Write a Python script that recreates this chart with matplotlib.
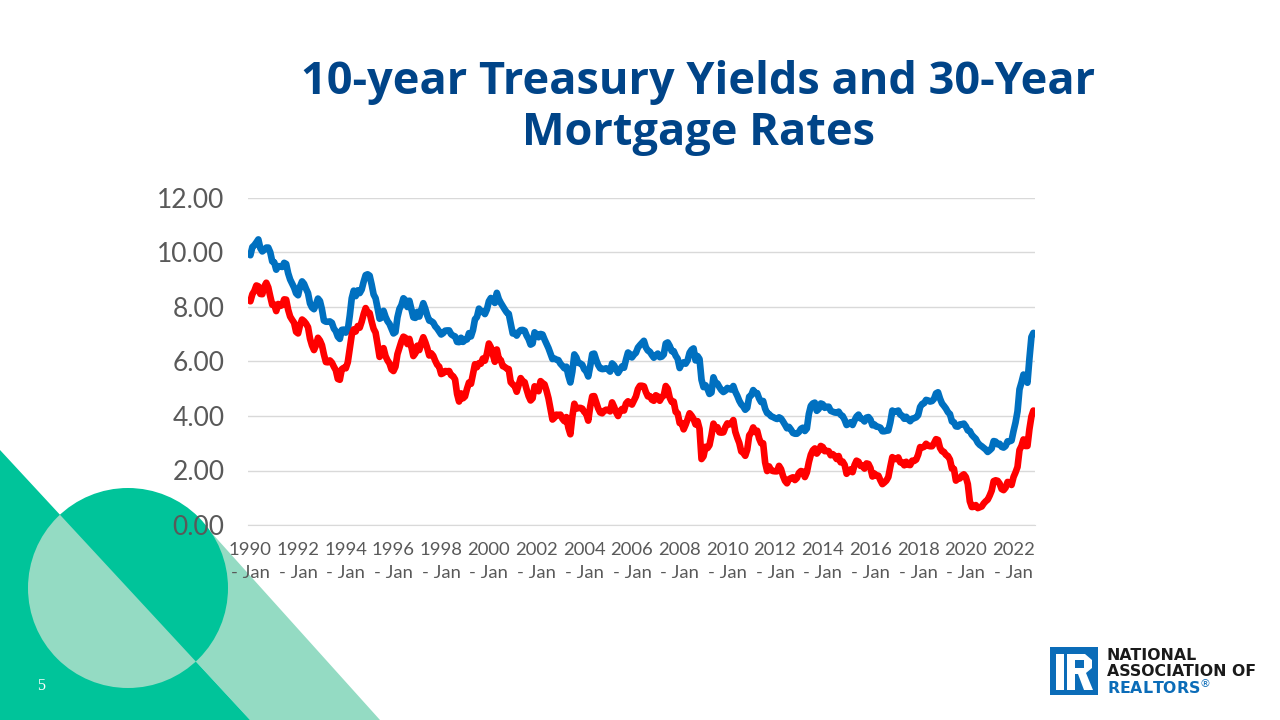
import matplotlib
matplotlib.use('Agg')
import matplotlib.pyplot as plt
from matplotlib.patches import Polygon, Circle, Rectangle
from matplotlib.path import Path
from matplotlib.patches import PathPatch

# monthly values, Jan 1990 .. Nov 2022
mortgage_30y = [
    9.90, 10.20, 10.27, 10.37, 10.48, 10.16, 10.04, 10.10, 10.18, 10.18, 10.01, 9.67,  # 1990
    9.64, 9.37, 9.50, 9.49, 9.47, 9.62, 9.58, 9.24, 9.01, 8.86, 8.71, 8.50,  # 1991
    8.43, 8.76, 8.94, 8.85, 8.67, 8.51, 8.13, 7.98, 7.92, 8.09, 8.31, 8.22,  # 1992
    7.92, 7.50, 7.46, 7.46, 7.47, 7.42, 7.21, 7.11, 6.91, 6.83, 7.16, 7.17,  # 1993
    7.06, 7.15, 7.68, 8.32, 8.60, 8.40, 8.61, 8.51, 8.64, 8.93, 9.17, 9.20,  # 1994
    9.15, 8.83, 8.46, 8.32, 7.96, 7.57, 7.61, 7.86, 7.64, 7.48, 7.38, 7.20,  # 1995
    7.03, 7.08, 7.62, 7.93, 8.07, 8.32, 8.25, 8.00, 8.23, 7.92, 7.62, 7.60,  # 1996
    7.82, 7.65, 7.90, 8.14, 7.94, 7.69, 7.50, 7.48, 7.43, 7.29, 7.21, 7.10,  # 1997
    6.99, 7.04, 7.13, 7.14, 7.14, 7.00, 6.95, 6.92, 6.72, 6.71, 6.87, 6.72,  # 1998
    6.79, 6.81, 7.04, 6.92, 7.15, 7.55, 7.63, 7.94, 7.82, 7.85, 7.74, 7.91,  # 1999
    8.21, 8.33, 8.24, 8.15, 8.52, 8.29, 8.15, 8.03, 7.91, 7.80, 7.75, 7.38,  # 2000
    7.03, 7.05, 6.95, 7.08, 7.15, 7.16, 7.13, 6.95, 6.82, 6.62, 6.66, 7.07,  # 2001
    7.00, 6.89, 7.01, 6.99, 6.81, 6.65, 6.49, 6.29, 6.09, 6.11, 6.07, 6.05,  # 2002
    5.92, 5.84, 5.75, 5.81, 5.48, 5.23, 5.63, 6.26, 6.15, 5.95, 5.93, 5.88,  # 2003
    5.71, 5.64, 5.45, 5.83, 6.27, 6.29, 6.06, 5.87, 5.75, 5.72, 5.73, 5.75,  # 2004
    5.71, 5.63, 5.93, 5.86, 5.72, 5.58, 5.70, 5.82, 5.77, 6.07, 6.33, 6.27,  # 2005
    6.15, 6.25, 6.32, 6.51, 6.60, 6.68, 6.76, 6.52, 6.40, 6.36, 6.24, 6.14,  # 2006
    6.22, 6.29, 6.16, 6.18, 6.26, 6.66, 6.70, 6.57, 6.38, 6.38, 6.21, 6.10,  # 2007
    5.76, 5.92, 5.97, 5.92, 6.04, 6.32, 6.43, 6.48, 6.04, 6.20, 6.09, 5.33,  # 2008
    5.06, 5.13, 5.00, 4.81, 4.86, 5.42, 5.22, 5.19, 5.06, 4.95, 4.88, 4.93,  # 2009
    5.03, 4.99, 4.97, 5.10, 4.89, 4.74, 4.56, 4.43, 4.35, 4.23, 4.30, 4.71,  # 2010
    4.76, 4.95, 4.84, 4.84, 4.64, 4.51, 4.55, 4.27, 4.11, 4.07, 3.99, 3.96,  # 2011
    3.92, 3.89, 3.95, 3.91, 3.80, 3.68, 3.55, 3.60, 3.50, 3.38, 3.35, 3.35,  # 2012
    3.41, 3.53, 3.57, 3.45, 3.54, 4.07, 4.37, 4.46, 4.49, 4.19, 4.26, 4.46,  # 2013
    4.43, 4.30, 4.34, 4.34, 4.19, 4.16, 4.13, 4.12, 4.16, 4.04, 4.00, 3.86,  # 2014
    3.67, 3.71, 3.77, 3.67, 3.84, 3.98, 4.05, 3.91, 3.89, 3.80, 3.94, 3.96,  # 2015
    3.87, 3.66, 3.69, 3.61, 3.60, 3.57, 3.44, 3.44, 3.46, 3.47, 3.77, 4.20,  # 2016
    4.15, 4.17, 4.20, 4.05, 4.01, 3.90, 3.97, 3.88, 3.81, 3.90, 3.92, 3.95,  # 2017
    4.03, 4.33, 4.44, 4.47, 4.59, 4.57, 4.53, 4.55, 4.63, 4.83, 4.87, 4.64,  # 2018
    4.46, 4.37, 4.27, 4.14, 4.07, 3.80, 3.77, 3.62, 3.61, 3.69, 3.70, 3.72,  # 2019
    3.62, 3.47, 3.45, 3.31, 3.23, 3.16, 3.02, 2.94, 2.89, 2.83, 2.77, 2.68,  # 2020
    2.74, 2.81, 3.08, 3.06, 2.96, 2.98, 2.87, 2.84, 2.90, 3.07, 3.07, 3.10,  # 2021
    3.45, 3.76, 4.17, 4.98, 5.23, 5.52, 5.41, 5.22, 6.11, 6.90, 7.05,        # 2022
]

treasury_10y = [
    8.21, 8.47, 8.59, 8.79, 8.76, 8.48, 8.47, 8.75, 8.89, 8.72, 8.39, 8.08,  # 1990
    8.09, 7.85, 8.11, 8.04, 8.07, 8.28, 8.27, 7.90, 7.65, 7.53, 7.42, 7.09,  # 1991
    7.03, 7.34, 7.54, 7.48, 7.39, 7.26, 6.84, 6.59, 6.42, 6.59, 6.87, 6.77,  # 1992
    6.60, 6.26, 5.98, 5.97, 6.04, 5.96, 5.81, 5.68, 5.36, 5.33, 5.72, 5.77,  # 1993
    5.75, 5.97, 6.48, 6.97, 7.18, 7.10, 7.30, 7.24, 7.46, 7.74, 7.96, 7.81,  # 1994
    7.78, 7.47, 7.20, 7.06, 6.63, 6.17, 6.28, 6.49, 6.20, 6.04, 5.93, 5.71,  # 1995
    5.65, 5.81, 6.27, 6.51, 6.74, 6.91, 6.87, 6.64, 6.83, 6.53, 6.20, 6.30,  # 1996
    6.58, 6.42, 6.69, 6.89, 6.71, 6.49, 6.22, 6.30, 6.21, 6.03, 5.88, 5.81,  # 1997
    5.54, 5.57, 5.65, 5.64, 5.65, 5.50, 5.46, 5.34, 4.81, 4.53, 4.83, 4.65,  # 1998
    4.72, 5.00, 5.23, 5.18, 5.54, 5.90, 5.79, 5.94, 5.92, 6.11, 6.03, 6.28,  # 1999
    6.66, 6.52, 6.26, 5.99, 6.44, 6.10, 6.05, 5.83, 5.80, 5.74, 5.72, 5.24,  # 2000
    5.16, 5.10, 4.89, 5.14, 5.39, 5.28, 5.24, 4.97, 4.73, 4.57, 4.65, 5.09,  # 2001
    5.04, 4.91, 5.28, 5.21, 5.16, 4.93, 4.65, 4.26, 3.87, 3.94, 4.05, 4.03,  # 2002
    4.05, 3.90, 3.81, 3.96, 3.57, 3.33, 3.98, 4.45, 4.27, 4.29, 4.30, 4.27,  # 2003
    4.15, 4.08, 3.83, 4.35, 4.72, 4.73, 4.50, 4.28, 4.13, 4.10, 4.19, 4.23,  # 2004
    4.22, 4.17, 4.50, 4.34, 4.14, 4.00, 4.18, 4.26, 4.20, 4.46, 4.54, 4.47,  # 2005
    4.42, 4.57, 4.72, 4.99, 5.11, 5.11, 5.09, 4.88, 4.72, 4.73, 4.60, 4.56,  # 2006
    4.76, 4.72, 4.56, 4.69, 4.75, 5.10, 5.00, 4.67, 4.52, 4.53, 4.15, 4.10,  # 2007
    3.74, 3.74, 3.51, 3.68, 3.88, 4.10, 4.01, 3.89, 3.69, 3.81, 3.53, 2.42,  # 2008
    2.52, 2.87, 2.82, 2.93, 3.29, 3.72, 3.56, 3.59, 3.40, 3.39, 3.40, 3.59,  # 2009
    3.73, 3.69, 3.73, 3.85, 3.42, 3.20, 3.01, 2.70, 2.65, 2.54, 2.76, 3.29,  # 2010
    3.39, 3.58, 3.41, 3.46, 3.17, 3.00, 3.00, 2.30, 1.98, 2.15, 2.01, 1.98,  # 2011
    1.97, 1.97, 2.17, 2.05, 1.80, 1.62, 1.53, 1.68, 1.72, 1.75, 1.65, 1.72,  # 2012
    1.91, 1.98, 1.96, 1.76, 1.93, 2.30, 2.58, 2.74, 2.81, 2.62, 2.72, 2.90,  # 2013
    2.86, 2.71, 2.72, 2.71, 2.56, 2.60, 2.54, 2.42, 2.53, 2.30, 2.33, 2.21,  # 2014
    1.88, 1.98, 2.04, 1.94, 2.20, 2.36, 2.32, 2.17, 2.17, 2.07, 2.26, 2.24,  # 2015
    2.09, 1.78, 1.89, 1.81, 1.81, 1.64, 1.50, 1.56, 1.63, 1.76, 2.14, 2.49,  # 2016
    2.43, 2.42, 2.48, 2.30, 2.30, 2.19, 2.32, 2.21, 2.20, 2.36, 2.35, 2.40,  # 2017
    2.58, 2.86, 2.84, 2.87, 2.98, 2.91, 2.89, 2.89, 3.00, 3.15, 3.12, 2.83,  # 2018
    2.71, 2.68, 2.57, 2.53, 2.40, 2.07, 2.06, 1.63, 1.70, 1.71, 1.81, 1.86,  # 2019
    1.76, 1.50, 0.87, 0.66, 0.67, 0.73, 0.62, 0.65, 0.68, 0.79, 0.87, 0.93,  # 2020
    1.08, 1.26, 1.61, 1.64, 1.62, 1.52, 1.32, 1.28, 1.37, 1.58, 1.56, 1.47,  # 2021
    1.76, 1.93, 2.13, 2.75, 2.90, 3.14, 2.90, 2.90, 3.52, 3.98, 4.20,        # 2022
]

tick_years = list(range(1990, 2023, 2))
tick_labels = ['{}\n- Jan'.format(y) for y in tick_years]

title = '10-year Treasury Yields and 30-Year\nMortgage Rates'

DARK_GREEN = '#00c49a'
LIGHT_GREEN = '#94dbc3'
TITLE_BLUE = '#004488'
GRAY = '#595959'

fig = plt.figure(figsize=(12.8, 7.2), dpi=100)

# background decoration in pixel coords
bg = fig.add_axes([0, 0, 1, 1], zorder=0)
bg.set_xlim(0, 1280)
bg.set_ylim(720, 0)
bg.axis('off')

bg.add_patch(Polygon([(65, 520), (200, 520), (380, 720), (250, 720)], closed=True,
                     facecolor=LIGHT_GREEN, edgecolor='none'))
bg.add_patch(Polygon([(0, 450), (250, 720), (0, 720)], closed=True,
                     facecolor=DARK_GREEN, edgecolor='none'))
circ = Circle((128, 588), 100, facecolor=DARK_GREEN, edgecolor='none')
bg.add_patch(circ)
inner = Polygon([(0, 450), (250, 720), (0, 720)], closed=True,
                facecolor=LIGHT_GREEN, edgecolor='none')
bg.add_patch(inner)
inner.set_clip_path(circ)

bg.text(41, 686, '5', color='white', fontsize=11.5, ha='center', va='center',
        family='Liberation Serif')

# logo
bg.add_patch(Rectangle((1050, 647), 48, 48, facecolor='#0b6cb8', edgecolor='none'))
bg.add_patch(Rectangle((1056, 654), 8, 36, facecolor='white', edgecolor='none'))
r_outer = [(1067, 654), (1085, 654), (1092, 660), (1092, 668), (1086, 673), (1093, 690),
           (1084, 690), (1078, 674), (1075, 674), (1075, 690), (1067, 690), (1067, 654)]
r_hole = [(1075, 660), (1075, 668), (1084, 668), (1084, 660), (1075, 660)]
codes = [Path.MOVETO] + [Path.LINETO] * (len(r_outer) - 2) + [Path.CLOSEPOLY]
codes += [Path.MOVETO] + [Path.LINETO] * (len(r_hole) - 2) + [Path.CLOSEPOLY]
bg.add_patch(PathPatch(Path(r_outer + r_hole, codes), facecolor='white', edgecolor='none'))
bg.text(1107, 655, 'NATIONAL', fontsize=11.3, fontweight='bold', color='#1a1a1a', va='center')
bg.text(1107, 671, 'ASSOCIATION OF', fontsize=11.3, fontweight='bold', color='#1a1a1a', va='center')
bg.text(1107, 687, r'REALTORS$^{\circledR}$', fontsize=11.3, fontweight='bold', color='#0b6cb8',
        va='center')

fig.text(698 / 1280, 1 - 108 / 720, title, ha='center', va='center', fontsize=32.5,
         fontweight='bold', color=TITLE_BLUE, family='Open Sans', linespacing=1.17)

# main chart
ax = fig.add_axes([248 / 1280, 1 - 525 / 720, 787 / 1280, 327 / 720], zorder=1)
ax.set_facecolor('none')
x = list(range(len(mortgage_30y)))
ax.plot(x, mortgage_30y, color='#0070c0', linewidth=4.8, solid_capstyle='round', zorder=3)
ax.plot(x, treasury_10y, color='#ff0000', linewidth=4.8, solid_capstyle='round', zorder=3)

ax.set_ylim(0, 12)
ax.set_yticks(range(0, 13, 2))
ax.set_yticklabels(['{:.2f}'.format(v) for v in range(0, 13, 2)])
ax.set_xlim(-1.2, len(mortgage_30y) - 0.2)
ax.set_xticks([(y - 1990) * 12 for y in tick_years])
ax.set_xticklabels(tick_labels, linespacing=1.6)
ax.grid(axis='y', color='#d9d9d9', linewidth=1)
ax.set_axisbelow(True)
for s in ['top', 'right', 'left']:
    ax.spines[s].set_visible(False)
ax.spines['bottom'].set_color('#d9d9d9')
ax.tick_params(axis='both', length=0)
ax.tick_params(axis='y', pad=17, labelsize=19, labelcolor=GRAY)
ax.tick_params(axis='x', pad=12, labelsize=13.3, labelcolor=GRAY)
for lab in ax.get_xticklabels() + ax.get_yticklabels():
    lab.set_family('Lato')

fig.savefig('out.png', dpi=100)
